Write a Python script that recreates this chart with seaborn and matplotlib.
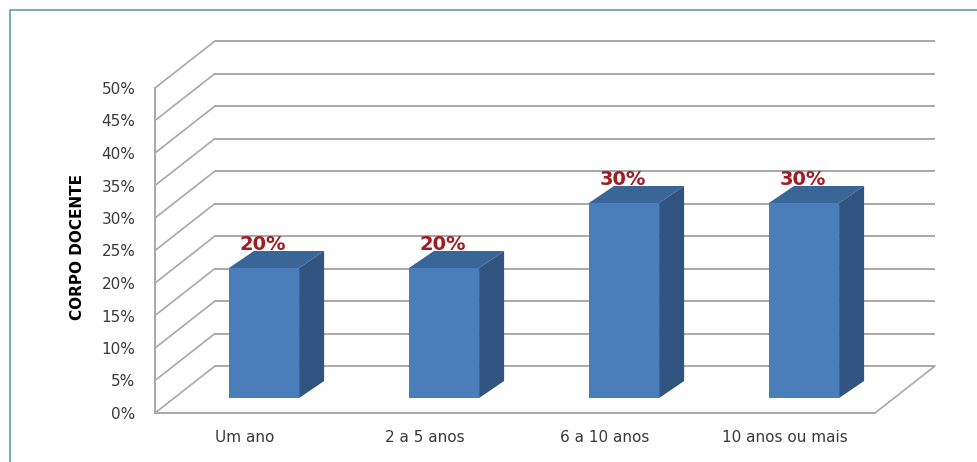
import matplotlib
matplotlib.use("Agg")
import matplotlib.pyplot as plt
import matplotlib.transforms as mtransforms
from matplotlib.patches import Polygon, Rectangle
from matplotlib.lines import Line2D
import seaborn as sns
import pandas as pd

# Data
categories = ["Um ano", "2 a 5 anos", "6 a 10 anos", "10 anos ou mais"]
percentages = [20, 20, 30, 30]
y_ticks = [0, 5, 10, 15, 20, 25, 30, 35, 40, 45, 50]
y_tick_labels = [f"{t}%" for t in y_ticks]
value_labels = [f"{v}%" for v in percentages]
y_title = "CORPO DOCENTE"

# Style
FRONT = "#4a7ebb"
SIDE = "#30547f"
TOP = "#3a6597"
GRID = "#a8a8a8"
LABEL_RED = "#a11d24"
TEXT = "#3a3a3a"
BORDER = "#6a9ea4"

sns.set_theme(style="white")
plt.rcParams["font.family"] = ["DejaVu Sans"]

W, H, DPI = 977, 462, 100
fig = plt.figure(figsize=(W / DPI, H / DPI), dpi=DPI)
fig.patch.set_facecolor("white")
ax = fig.add_axes([155 / W, 49 / H, 720 / W, 325 / H])
ax.patch.set_alpha(0)

df = pd.DataFrame({"faixa": categories, "pct": percentages})
sns.barplot(data=df, x="faixa", y="pct", color=FRONT, saturation=1,
            width=0.39, linewidth=0, ax=ax, zorder=3)
ax.set_xlim(-0.5, 3.5)
ax.set_ylim(0, 50)

# pseudo-3D depth offsets in pixels (x right, y up)
WALL_DX, WALL_DY = 60, 47
BAR_DX, BAR_DY = 19, 15
DEPTH_DX, DEPTH_DY = 25, 17
ident = mtransforms.IdentityTransform()
wall_tr = ax.transData + mtransforms.Affine2D().translate(WALL_DX, WALL_DY)
bar_tr = ax.transData + mtransforms.Affine2D().translate(BAR_DX, BAR_DY)

# back wall gridlines and side wall diagonals
x0, x1 = ax.get_xlim()
for t in y_ticks:
    ax.plot([x0, x1], [t, t], transform=wall_tr, color=GRID, lw=1.4,
            zorder=1, clip_on=False, solid_capstyle="butt")
    px, py = ax.transData.transform((x0, t))
    ax.add_line(Line2D([px, px + WALL_DX], [py, py + WALL_DY], transform=ident,
                       color=GRID, lw=1.2, zorder=1, clip_on=False))
# floor right edge
px, py = ax.transData.transform((x1, 0))
ax.add_line(Line2D([px, px + WALL_DX], [py, py + WALL_DY], transform=ident,
                   color=GRID, lw=1.2, zorder=1, clip_on=False))

# bars: shift into the depth and add top and side faces
for patch in list(ax.patches):
    patch.set_transform(bar_tr)
    patch.set_clip_on(False)
    bx, bw, bh = patch.get_x(), patch.get_width(), patch.get_height()
    (lx, by) = ax.transData.transform((bx, 0))
    (rx, ty) = ax.transData.transform((bx + bw, bh))
    lx += BAR_DX; rx += BAR_DX; by += BAR_DY; ty += BAR_DY
    top = Polygon([(lx, ty), (rx, ty), (rx + DEPTH_DX, ty + DEPTH_DY),
                   (lx + DEPTH_DX, ty + DEPTH_DY)], closed=True,
                  transform=ident, facecolor=TOP, edgecolor="none",
                  zorder=3, clip_on=False)
    side = Polygon([(rx, ty), (rx + DEPTH_DX, ty + DEPTH_DY),
                    (rx + DEPTH_DX, by + DEPTH_DY), (rx, by)], closed=True,
                   transform=ident, facecolor=SIDE, edgecolor="none",
                   zorder=3, clip_on=False)
    ax.add_patch(top)
    ax.add_patch(side)

# value labels
for i, (v, lab) in enumerate(zip(percentages, value_labels)):
    ax.annotate(lab, xy=(i, v), xytext=(18, 33), textcoords="offset pixels",
                ha="center", va="baseline", fontsize=14, fontweight="bold",
                color=LABEL_RED, zorder=6, annotation_clip=False)

# axes
for s in ["top", "right"]:
    ax.spines[s].set_visible(False)
for s in ["left", "bottom"]:
    ax.spines[s].set_color(GRID)
    ax.spines[s].set_linewidth(1.4)
ax.set_yticks(y_ticks, y_tick_labels)
ax.tick_params(axis="y", length=0, pad=14, labelsize=11, labelcolor=TEXT)
ax.tick_params(axis="x", length=0, pad=12, labelsize=11, labelcolor=TEXT)
ax.set_xlabel("")
ax.set_ylabel("")
fig.text(77 / W, 1 - 247 / H, y_title, rotation=90, ha="center", va="center",
         fontsize=11, fontweight="bold", color="black")

# chart area border
fig.add_artist(Rectangle((10 / W, -0.1), 2, 1 - 10 / H + 0.1,
                         transform=fig.transFigure, fill=False,
                         edgecolor=BORDER, lw=1.2))

fig.savefig("out.png", dpi=DPI, facecolor="white")
